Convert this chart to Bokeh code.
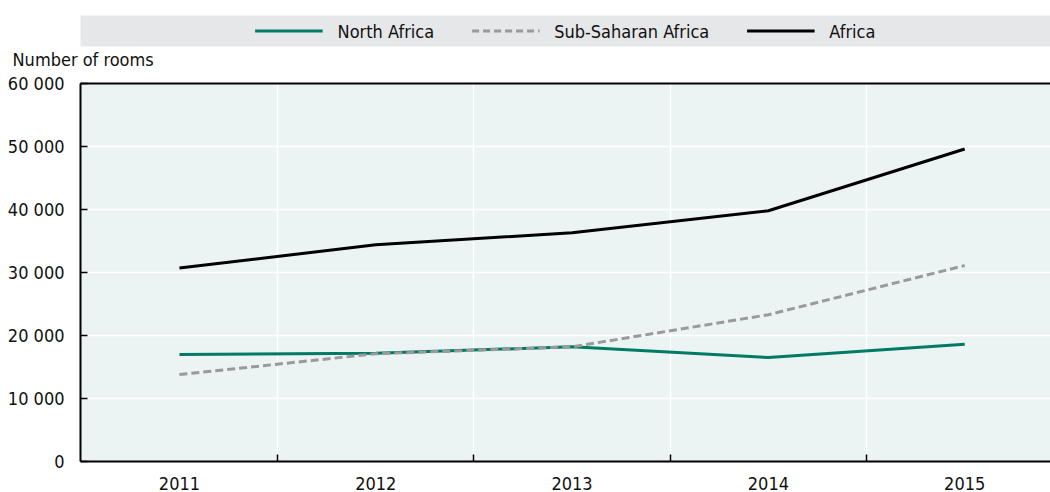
from bokeh.plotting import figure
from bokeh.models import Range1d, FixedTicker, LinearAxis, Legend, LegendItem, Title
from bokeh.layouts import column
from bokeh.embed import file_html
from bokeh.resources import INLINE

years = ["2011", "2012", "2013", "2014", "2015"]
north_africa = [17000, 17200, 18200, 16500, 18600]
sub_saharan = [13800, 17100, 18200, 23300, 31100]
africa = [30700, 34400, 36300, 39800, 49600]
y_ticks = [0, 10000, 20000, 30000, 40000, 50000, 60000]
y_tick_labels = ["0", "10 000", "20 000", "30 000", "40 000", "50 000", "60 000"]
series_names = ["North Africa", "Sub-Saharan Africa", "Africa"]
y_title = "Number of rooms"

FONT = "DejaVu Sans Condensed"
FS = "18px"
TXT = "#111111"
TEAL = "#007A65"
GREY = "#9A9A9A"
BLACK = "#000000"

xs = list(range(len(years)))

# ---- legend band + y-axis title ----
top = figure(width=1050, height=72, x_range=Range1d(0, 1), y_range=Range1d(0, 1),
             x_axis_type=None, y_axis_type=None, toolbar_location=None,
             output_backend="svg", min_border_left=80, min_border_right=0,
             min_border_top=15, min_border_bottom=26)
top.background_fill_color = "#E6E7E9"
top.border_fill_color = "white"
top.outline_line_color = None
top.grid.visible = False
r1 = top.line([5, 6], [5, 6], line_color=TEAL, line_width=3)
r2 = top.line([5, 6], [5, 6], line_color=GREY, line_width=3, line_dash="7 4")
r3 = top.line([5, 6], [5, 6], line_color=BLACK, line_width=3)
leg = Legend(items=[LegendItem(label=series_names[0], renderers=[r1]),
                    LegendItem(label=series_names[1], renderers=[r2]),
                    LegendItem(label=series_names[2], renderers=[r3])],
             orientation="horizontal", location="center",
             glyph_width=68, label_standoff=15, spacing=37, padding=0, margin=0,
             background_fill_alpha=0, border_line_color=None,
             label_text_font=FONT, label_text_font_size=FS, label_text_color=TXT)
top.add_layout(leg, "center")
top.add_layout(Title(text=y_title, align="left", offset=-68, standoff=0,
                     text_font=FONT, text_font_size=FS, text_font_style="normal",
                     text_color=TXT), "below")

# ---- main chart ----
p = figure(width=1050, height=420, x_range=Range1d(-0.504, 4.437), y_range=Range1d(0, 60000),
           toolbar_location=None, output_backend="svg",
           min_border_left=80, min_border_right=0, min_border_top=11, min_border_bottom=31)
p.background_fill_color = "#EBF4F3"
p.border_fill_color = "white"
p.outline_line_color = None

p.line(xs, north_africa, line_color=TEAL, line_width=3)
p.line(xs, sub_saharan, line_color=GREY, line_width=3, line_dash="8 4")
p.line(xs, africa, line_color=BLACK, line_width=3)

xa = p.xaxis[0]
xa.ticker = FixedTicker(ticks=xs, minor_ticks=[0.5, 1.5, 2.5, 3.5])
xa.major_label_overrides = {i: y for i, y in zip(xs, years)}
xa.major_tick_line_color = None
xa.minor_tick_in = 7
xa.minor_tick_out = 0
xa.minor_tick_line_color = "black"
xa.minor_tick_line_width = 1.5
xa.axis_line_width = 2
xa.major_label_standoff = 9
xa.major_label_text_font = FONT
xa.major_label_text_font_size = FS
xa.major_label_text_color = TXT

ya = p.yaxis[0]
ya.ticker = FixedTicker(ticks=y_ticks)
ya.major_label_overrides = {t: s for t, s in zip(y_ticks, y_tick_labels)}
ya.major_tick_in = 7
ya.major_tick_out = 0
ya.major_tick_line_width = 1.5
ya.minor_tick_line_color = None
ya.axis_line_width = 2
ya.major_label_standoff = 16
ya.major_label_text_font = FONT
ya.major_label_text_font_size = FS
ya.major_label_text_color = TXT

p.xgrid.grid_line_color = None
p.xgrid.minor_grid_line_color = "white"
p.xgrid.minor_grid_line_width = 1.5
p.ygrid.grid_line_color = "white"
p.ygrid.grid_line_width = 1.5

top_axis = LinearAxis(ticker=FixedTicker(ticks=[]), axis_line_width=2,
                      major_tick_line_color=None, minor_tick_line_color=None,
                      major_tick_in=0, major_tick_out=0, minor_tick_in=0, minor_tick_out=0,
                      major_label_standoff=0, major_label_text_font_size="0px")
p.add_layout(top_axis, "above")

layout = column(top, p, spacing=0)
open("out.html", "w").write(file_html(layout, INLINE))
